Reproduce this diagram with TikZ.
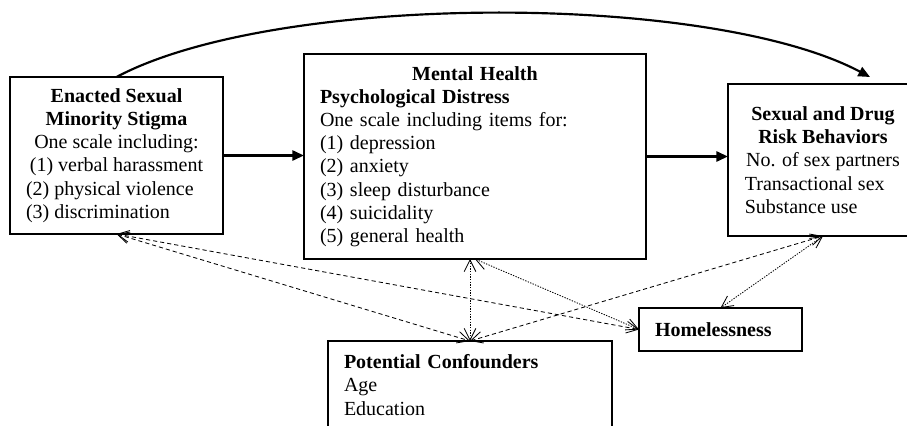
\documentclass[tikz,border=0pt]{standalone}
\usepackage{fontspec}
\setmainfont{Liberation Serif}
\usetikzlibrary{arrows.meta}

\tikzset{
    box/.style={draw, line width=1pt, inner sep=0pt, outer sep=0pt, anchor=north west,
        font=\fontsize{12}{13.9}\selectfont},
    leftbox/.style={box, align=left, inner xsep=9.6pt},
    mainarrow/.style={line width=1.6pt, -{Triangle[length=7pt,width=6pt]}},
    assoc/.style={line width=0.5pt, {Straight Barb[length=7pt,width=7pt]}-{Straight Barb[length=7pt,width=7pt]},
        dash pattern=on 2.5pt off 1.8pt},
    assocdot/.style={assoc, dash pattern=on 0.8pt off 0.8pt}
}

\begin{document}
\begin{tikzpicture}[x=0.6pt, y=-0.6pt]

    \useasboundingbox (0,0) rectangle (907,425);

    % Kaesten
    \node [box, minimum width=127.8pt, minimum height=94.2pt, align=center] (stigma) at (10,77)
        {\textbf{Enacted Sexual}\\ \textbf{Minority Stigma}\\ One scale including:\\
         (1) verbal harassment\\ \makebox[108.6pt][l]{(2) physical violence}\\
         \makebox[108.6pt][l]{(3) discrimination}};
    \node [leftbox, minimum width=205.2pt, minimum height=123pt, text width=186pt] (distress) at (304,54)
        {\makebox[186pt]{\textbf{Mental Health}}\\ \textbf{Psychological Distress}\\
         One scale including items for:\\ (1) depression\\ (2) anxiety\\ (3) sleep disturbance\\
         (4) suicidality\\ (5) general health};
    \node [box, minimum width=114pt, minimum height=91.2pt, align=center] (risk) at (728,84)
        {\textbf{Sexual and Drug}\\ \textbf{Risk Behaviors}\\ No. of sex partners\\
         \makebox[93.8pt][l]{Transactional sex}\\ \makebox[93.8pt][l]{Substance use}};
    \node [leftbox, minimum width=97.8pt, minimum height=25.8pt, text width=78.6pt] (homeless) at (639,308)
        {\textbf{Homelessness}};
    \node [leftbox, minimum width=170.4pt, minimum height=52.8pt, text width=151.2pt] (confounders) at (328,341)
        {\textbf{Potential Confounders}\\ Age\\ Education};

    % Hauptpfade
    \coordinate (curveend) at (870,77);
    \draw [mainarrow] (stigma.east) -- (stigma.east -| distress.west);
    \draw [mainarrow] (distress.east) -- (distress.east -| risk.west);
    \draw [mainarrow, line width=1.3pt] (stigma.north) .. controls +(160,-85) and +(-160,-85) .. (curveend);

    % Zusammenhaenge
    \draw [assoc] (stigma.south) -- (confounders.north);
    \draw [assoc] (stigma.south) -- (homeless.west);
    \draw [assoc] (confounders.north) -- (risk.south);
    \draw [assocdot] (distress.south -| confounders.north) -- (confounders.north);
    \draw [assocdot] (distress.south) -- (homeless.west);
    \draw [assocdot] (risk.south) -- (homeless.north);

\end{tikzpicture}
\end{document}
